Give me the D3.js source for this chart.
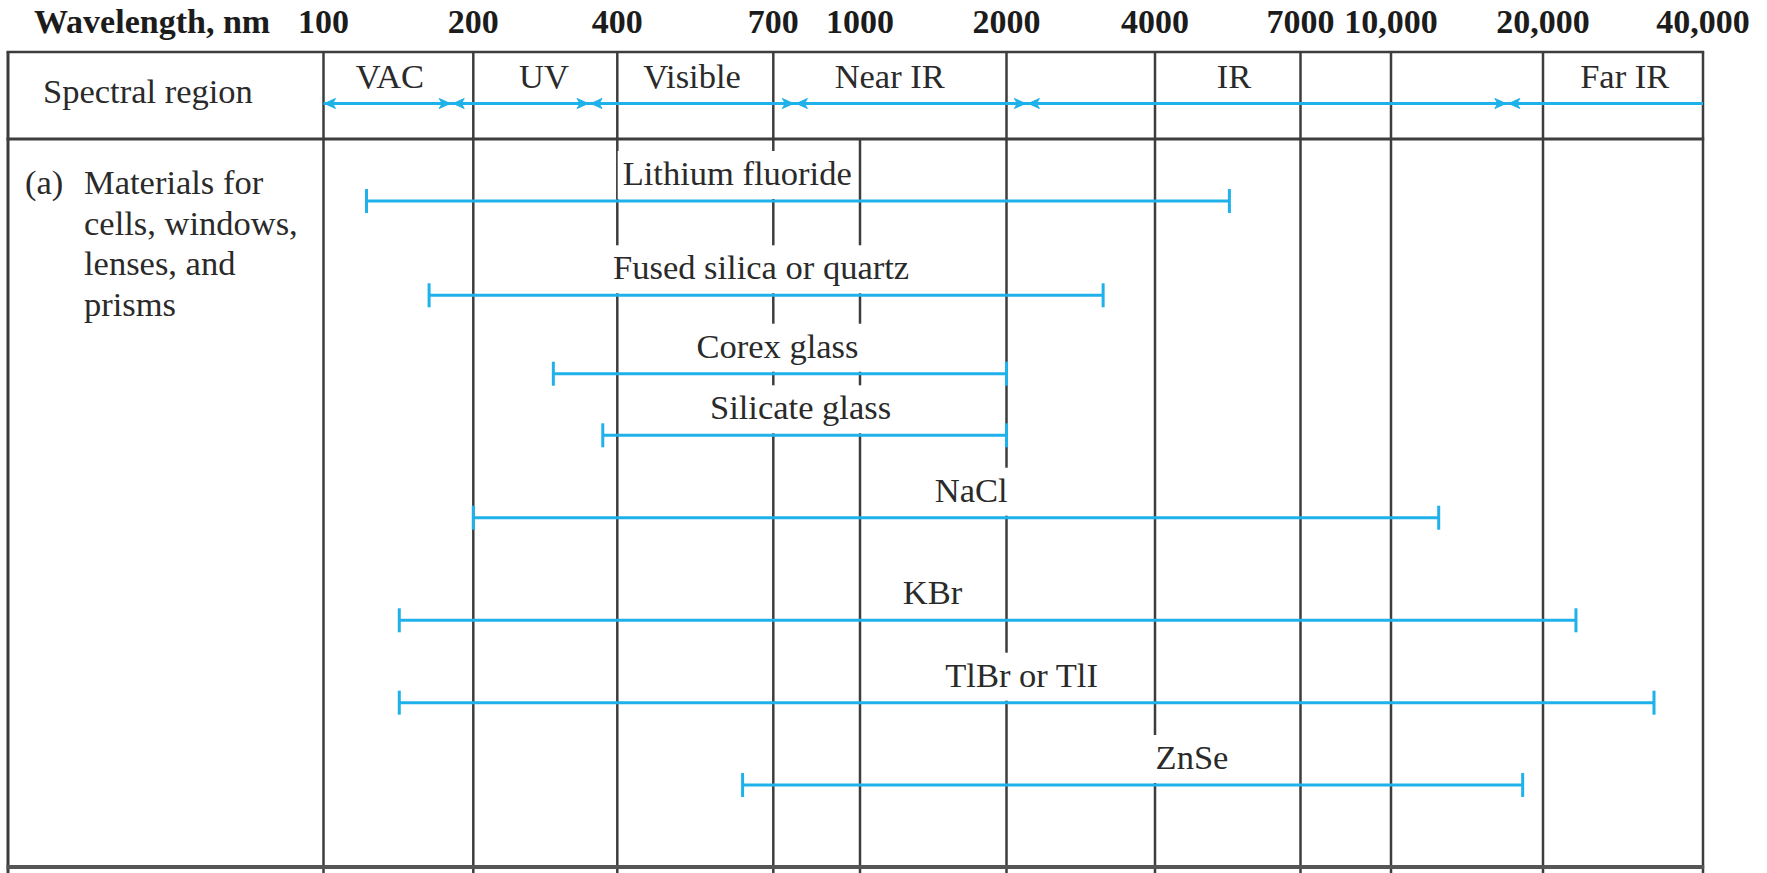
<!DOCTYPE html>
<html>
<head>
<meta charset="utf-8">
<script src="https://cdn.jsdelivr.net/npm/d3@7"></script>
<style>
  html, body { margin: 0; padding: 0; background: #ffffff; }
  svg { display: block; }
</style>
</head>
<body>
<script>
// ---------------- DATA ----------------
const axisTitle = "Wavelength, nm";
const tickValues = [100, 200, 400, 700, 1000, 2000, 4000, 7000, 10000, 20000, 40000];
const tickLabels = ["100", "200", "400", "700", "1000", "2000", "4000", "7000", "10,000", "20,000", "40,000"];

const regionNames = ["VAC", "UV", "Visible", "Near IR", "IR", "Far IR"];
const regionBounds = [100, 181, 350, 765, 2200, 17000, 40000];
const regionLabelAt = [136, 281, 523, 1151, 5420, 28500];

const materials = ["Lithium fluoride", "Fused silica or quartz", "Corex glass", "Silicate glass",
                   "NaCl", "KBr", "TlBr or TlI", "ZnSe"];
const rangeLow  = [122, 163, 294, 373, 200, 142, 142, 627];
const rangeHigh = [5325, 3140, 2000, 2000, 12430, 23070, 32350, 18230];
const labelAt   = [615, 670, 712, 783, 1693, 1409, 2146, 4612];

const headerLabel = "Spectral region";
const rowTag = "(a)";
const rowTitle = ["Materials for", "cells, windows,", "lenses, and", "prisms"];

// ---------------- LAYOUT ----------------
const W = 1767, H = 873;
const L = { left: 8, right: 1703, top: 52, headBottom: 139, bottom: 867,
            tickBaseline: 33, regionBaseline: 88, arrowY: 103.5, labelGap: 16 };
const colPx = [323.5, 473.3, 617.3, 773.3, 860, 1006.5, 1155, 1300.5, 1391, 1543, 1703];
const rowPx = [201, 295.3, 373.7, 435.3, 517.7, 620.3, 702.7, 785];
const headerOmit = [1000];

const BLUE = "#1eb1ea";
const INK = "#2a2a2a";
const GRID = "#3d3d3d";
const SERIF = "'Liberation Serif', 'Times New Roman', serif";

// piecewise logarithmic scale through the column lines
const xLin = d3.scaleLinear().domain(tickValues.map(Math.log10)).range(colPx);
const x = v => xLin(Math.log10(v));
const y = d3.scaleOrdinal().domain(materials).range(rowPx);

const svg = d3.select("body").append("svg").attr("width", W).attr("height", H);

// ---------------- AXIS LABELS ----------------
svg.append("text")
  .attr("x", 34).attr("y", L.tickBaseline)
  .attr("font-family", SERIF).attr("font-weight", "bold").attr("font-size", 34)
  .attr("fill", "#1c1c1c").text(axisTitle);

svg.append("g").selectAll("text").data(tickValues).join("text")
  .attr("x", d => x(d)).attr("y", L.tickBaseline)
  .attr("text-anchor", "middle")
  .attr("font-family", SERIF).attr("font-weight", "bold").attr("font-size", 34)
  .attr("fill", "#1c1c1c")
  .text((d, i) => tickLabels[i]);

// ---------------- GRID ----------------
const grid = svg.append("g");
grid.selectAll("line").data(tickValues).join("line")
  .attr("x1", d => x(d)).attr("x2", d => x(d))
  .attr("y1", d => headerOmit.includes(d) ? L.headBottom : L.top)
  .attr("y2", H)
  .attr("stroke", GRID).attr("stroke-width", 2.5);

// left border
grid.append("line").attr("x1", L.left).attr("x2", L.left)
  .attr("y1", L.top).attr("y2", H).attr("stroke", GRID).attr("stroke-width", 3);
// top border
grid.append("line").attr("x1", L.left - 1.5).attr("x2", L.right + 1.2)
  .attr("y1", L.top).attr("y2", L.top).attr("stroke", GRID).attr("stroke-width", 2.5);
// header bottom
grid.append("line").attr("x1", L.left - 1.5).attr("x2", L.right + 1.2)
  .attr("y1", L.headBottom).attr("y2", L.headBottom).attr("stroke", GRID).attr("stroke-width", 3);
// bottom rule
grid.append("line").attr("x1", L.left - 1.5).attr("x2", L.right + 1.2)
  .attr("y1", L.bottom).attr("y2", L.bottom).attr("stroke", "#555").attr("stroke-width", 4);

// ---------------- HEADER ROW ----------------
svg.append("text")
  .attr("x", 43).attr("y", 102.5)
  .attr("font-family", SERIF).attr("font-size", 34.5).attr("fill", INK)
  .text(headerLabel);

svg.append("g").selectAll("text").data(regionNames).join("text")
  .attr("x", (d, i) => x(regionLabelAt[i])).attr("y", L.regionBaseline)
  .attr("text-anchor", "middle")
  .attr("font-family", SERIF).attr("font-size", 34.5).attr("fill", INK)
  .text(d => d);

// region double-arrow line
svg.append("line")
  .attr("x1", x(regionBounds[0])).attr("x2", x(regionBounds[regionBounds.length - 1]))
  .attr("y1", L.arrowY).attr("y2", L.arrowY)
  .attr("stroke", BLUE).attr("stroke-width", 3);

function arrowPath(xt, yc, dir) {
  const len = 11, half = 5, notch = 8;
  return `M${xt},${yc} L${xt - dir * len},${yc - half} L${xt - dir * notch},${yc} L${xt - dir * len},${yc + half} Z`;
}
const heads = [];
regionBounds.forEach((b, i) => {
  if (i > 0 && i < regionBounds.length - 1) heads.push({ xt: x(b) - 1.5, dir: 1 });
  if (i < regionBounds.length - 1) heads.push({ xt: x(b) + (i === 0 ? 1 : 1.5), dir: -1 });
});
svg.append("g").selectAll("path").data(heads).join("path")
  .attr("d", d => arrowPath(d.xt, L.arrowY, d.dir))
  .attr("fill", BLUE).attr("stroke", BLUE).attr("stroke-width", 1);

// ---------------- ROW TITLE ----------------
const rt = svg.append("g").attr("font-family", SERIF).attr("font-size", 34.5).attr("fill", INK);
rt.append("text").attr("x", 25).attr("y", 194).text(rowTag);
rt.selectAll("text.t").data(rowTitle).join("text").attr("class", "t")
  .attr("x", 84).attr("y", (d, i) => 194 + i * 40.5).text(d => d);

// ---------------- MATERIAL BARS ----------------
const bgG = svg.append("g");
const barG = svg.append("g");
const labG = svg.append("g");

const labels = labG.selectAll("text").data(materials).join("text")
  .attr("x", (d, i) => x(labelAt[i])).attr("y", d => y(d) - L.labelGap)
  .attr("text-anchor", "middle")
  .attr("font-family", SERIF).attr("font-size", 34.5).attr("fill", INK)
  .text(d => d);

labels.each(function (d) {
  const bb = this.getBBox();
  bgG.append("rect")
    .attr("x", bb.x - 5).attr("width", bb.width + 10)
    .attr("y", y(d) - 50).attr("height", 48)
    .attr("fill", "#ffffff");
});

barG.selectAll("line.bar").data(materials).join("line").attr("class", "bar")
  .attr("x1", (d, i) => x(rangeLow[i])).attr("x2", (d, i) => x(rangeHigh[i]))
  .attr("y1", d => y(d)).attr("y2", d => y(d))
  .attr("stroke", BLUE).attr("stroke-width", 3);

const caps = [];
materials.forEach((m, i) => { caps.push({ m, v: rangeLow[i] }); caps.push({ m, v: rangeHigh[i] }); });
barG.selectAll("line.cap").data(caps).join("line").attr("class", "cap")
  .attr("x1", d => x(d.v)).attr("x2", d => x(d.v))
  .attr("y1", d => y(d.m) - 12).attr("y2", d => y(d.m) + 12)
  .attr("stroke", BLUE).attr("stroke-width", 3);
</script>
</body>
</html>
